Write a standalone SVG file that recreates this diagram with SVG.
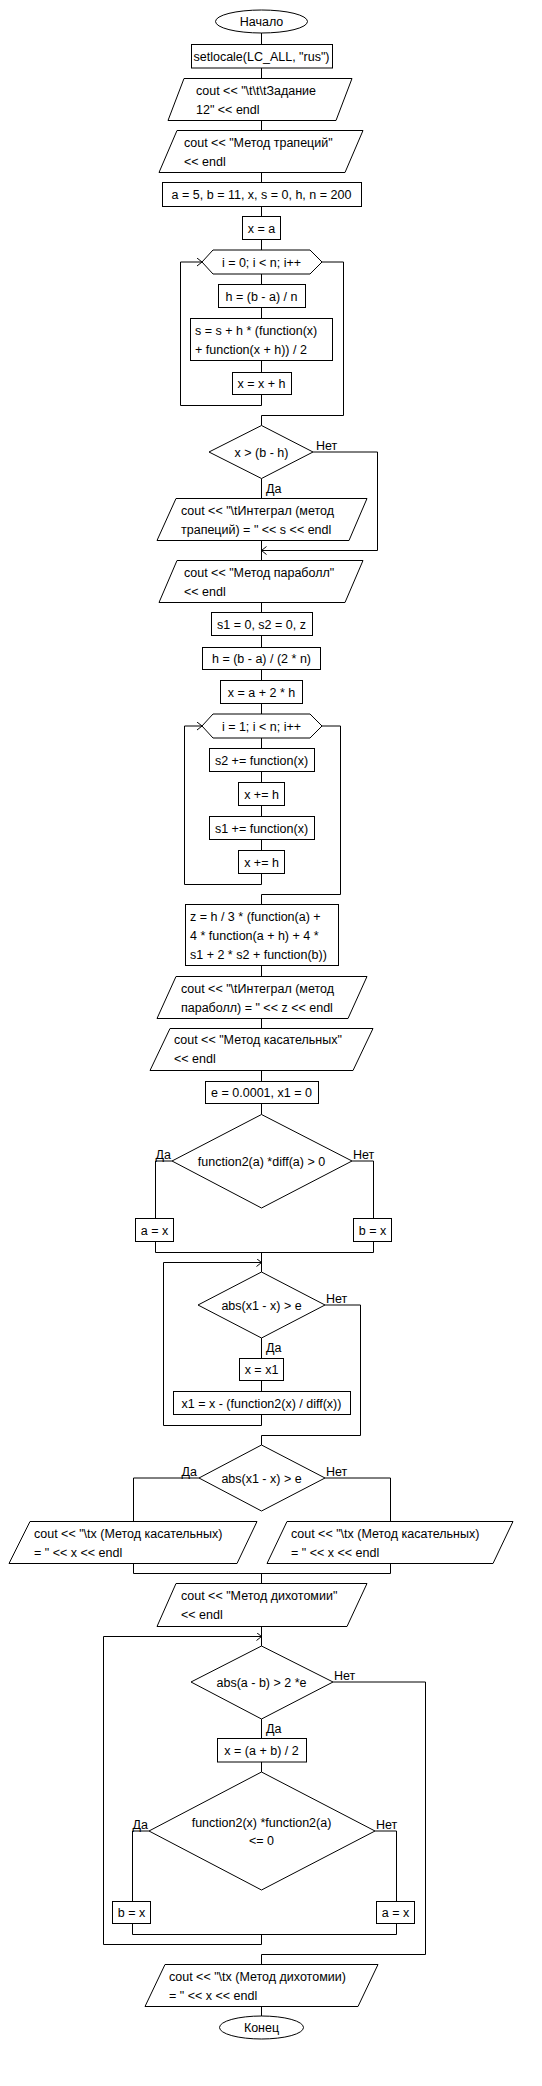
<svg xmlns="http://www.w3.org/2000/svg" width="542" height="2086" viewBox="0 0 542 2086">
<style>
.s{fill:#fff;stroke:#000;stroke-width:1}
.c{fill:none;stroke:#000;stroke-width:1}
text{font-family:"Liberation Sans",Arial,sans-serif;font-size:12.5px;fill:#000}
.m{text-anchor:middle}
.e{text-anchor:end}
</style>
<defs>
<marker id="ar" markerWidth="8" markerHeight="10" refX="6" refY="4" orient="auto" markerUnits="userSpaceOnUse">
<path d="M1,0 L6,4 L1,8" fill="none" stroke="#000" stroke-width="1"/>
</marker>
</defs>
<rect width="542" height="2086" fill="#fff"/>
<g id="connectors">
<path class="c" d="M261.5,33 V44.5 M261.5,68 V78.5 M261.5,120.5 V130.5 M261.5,172.5 V182.5 M261.5,206.5 V216.5 M261.5,239.5 V250 M261.5,274 V284.5 M261.5,307.5 V318.5 M261.5,360.5 V372.5"/>
<path class="c" d="M261.5,394.5 V405.5 H180.5 V262 H202" marker-end="url(#ar)"/>
<path class="c" d="M322,262 H343.5 V415.5 H261.5 V425.5"/>
<path class="c" d="M261.5,478.5 V498.5"/>
<path class="c" d="M313,452 H377.5 V550.5 H261.5" marker-end="url(#ar)"/>
<path class="c" d="M261.5,540.5 V560.5 M261.5,602.5 V612.5 M261.5,635.5 V647.5 M261.5,669.5 V680.5 M261.5,703.5 V714 M261.5,738 V748.5 M261.5,771.5 V782.5 M261.5,805.5 V816.5 M261.5,839.5 V850.5"/>
<path class="c" d="M261.5,873.5 V884.5 H184.5 V726 H202" marker-end="url(#ar)"/>
<path class="c" d="M322,726 H340.5 V894.5 H261.5 V904.5"/>
<path class="c" d="M261.5,965.5 V976.5 M261.5,1018.5 V1028.5 M261.5,1070.5 V1081.5 M261.5,1103.5 V1114.5"/>
<path class="c" d="M172,1161 H155.5 V1218.5 M352,1161 H373.5 V1218.5"/>
<path class="c" d="M155.5,1241.5 V1252.5 H373.5 V1241.5 M261.5,1252.5 V1272"/>
<path class="c" d="M261.5,1338 V1358.5 M261.5,1380.5 V1391.5"/>
<path class="c" d="M261.5,1414.5 V1425.5 H163.5 V1262.5 H261.5" marker-end="url(#ar)"/>
<path class="c" d="M325,1305 H360.5 V1435.5 H261.5 V1445"/>
<path class="c" d="M199,1478 H133.5 V1521.5 M325,1478 H390.5 V1521.5"/>
<path class="c" d="M133.5,1563.5 V1573.5 H390.5 V1563.5 M261.5,1573.5 V1583.5"/>
<path class="c" d="M261.5,1626.5 V1646 M261.5,1719 V1738.5 M261.5,1762 V1772"/>
<path class="c" d="M149,1831 H132.5 V1901.5 M375,1831 H396.5 V1901.5"/>
<path class="c" d="M132.5,1923.5 V1934.5 H396.5 V1923.5"/>
<path class="c" d="M261.5,1934.5 V1944.5 H103.5 V1636.5 H261.5" marker-end="url(#ar)"/>
<path class="c" d="M333,1682 H425.5 V1954.5 H261.5 V1964.5"/>
<path class="c" d="M261.5,2006.5 V2016"/>
</g>
<g id="labels">
<text x="316" y="449.5">Нет</text>
<text x="266" y="492.5">Да</text>
<text x="171" y="1158.5" class="e">Да</text>
<text x="353" y="1158.5">Нет</text>
<text x="326" y="1302.5">Нет</text>
<text x="266" y="1351.5">Да</text>
<text x="197" y="1475.5" class="e">Да</text>
<text x="326" y="1475.5">Нет</text>
<text x="334" y="1679.5">Нет</text>
<text x="266" y="1732.5">Да</text>
<text x="148" y="1828.5" class="e">Да</text>
<text x="376" y="1828.5">Нет</text>
</g>
<g id="n_start"><ellipse class="s" cx="261.5" cy="21.5" rx="46" ry="11.5"/><text x="261.5" y="26" class="m">Начало</text></g>
<g id="n_setlocale"><rect class="s" x="191.5" y="44.5" width="141" height="23.5"/><text x="261.5" y="60.5" class="m">setlocale(LC_ALL, "rus")</text></g>
<g id="n_out1"><polygon class="s" points="184,78.5 352,78.5 336,120.5 168,120.5"/><text x="196" y="94.5">cout &lt;&lt; "\t\t\tЗадание</text><text x="196" y="113.5">12" &lt;&lt; endl</text></g>
<g id="n_out2"><polygon class="s" points="177,130.5 363,130.5 345,172.5 159,172.5"/><text x="184" y="146.5">cout &lt;&lt; "Метод трапеций"</text><text x="184" y="165.5">&lt;&lt; endl</text></g>
<g id="n_init1"><rect class="s" x="162.5" y="182.5" width="199" height="24"/><text x="261.5" y="198.5" class="m">a = 5, b = 11, x, s = 0, h, n = 200</text></g>
<g id="n_xa"><rect class="s" x="242.5" y="216.5" width="38" height="23"/><text x="261.5" y="232.5" class="m">x = a</text></g>
<g id="n_loop1"><polygon class="s" points="202,262 213,250 310,250 322,262 310,274 213,274"/><text x="261.5" y="266.5" class="m">i = 0; i &lt; n; i++</text></g>
<g id="n_h1"><rect class="s" x="218.5" y="284.5" width="87" height="23"/><text x="261.5" y="300.5" class="m">h = (b - a) / n</text></g>
<g id="n_s"><rect class="s" x="190.5" y="318.5" width="142" height="42"/><text x="195" y="334.5">s = s + h * (function(x)</text><text x="195" y="353.5">+ function(x + h)) / 2</text></g>
<g id="n_xxh"><rect class="s" x="232.5" y="372.5" width="59" height="22"/><text x="261.5" y="387.5" class="m">x = x + h</text></g>
<g id="n_if1"><polygon class="s" points="261.5,425.5 313,452 261.5,478.5 209,452"/><text x="261.5" y="456.5" class="m">x &gt; (b - h)</text></g>
<g id="n_out3"><polygon class="s" points="176,498.5 367,498.5 349,540.5 157,540.5"/><text x="181" y="514.5">cout &lt;&lt; "\tИнтеграл (метод</text><text x="181" y="534">трапеций) = " &lt;&lt; s &lt;&lt; endl</text></g>
<g id="n_out4"><polygon class="s" points="177,560.5 363,560.5 345,602.5 159,602.5"/><text x="184" y="576.5">cout &lt;&lt; "Метод параболл"</text><text x="184" y="595.5">&lt;&lt; endl</text></g>
<g id="n_init2"><rect class="s" x="211.5" y="612.5" width="101" height="23"/><text x="261.5" y="628.5" class="m">s1 = 0, s2 = 0, z</text></g>
<g id="n_h2"><rect class="s" x="202.5" y="647.5" width="118" height="22"/><text x="261.5" y="663" class="m">h = (b - a) / (2 * n)</text></g>
<g id="n_xa2"><rect class="s" x="220.5" y="680.5" width="82" height="23"/><text x="261.5" y="696.5" class="m">x = a + 2 * h</text></g>
<g id="n_loop2"><polygon class="s" points="202,726 213,714 310,714 322,726 310,738 213,738"/><text x="261.5" y="730.5" class="m">i = 1; i &lt; n; i++</text></g>
<g id="n_s2"><rect class="s" x="209.5" y="748.5" width="105" height="23"/><text x="261.5" y="764.5" class="m">s2 += function(x)</text></g>
<g id="n_xh1"><rect class="s" x="238.5" y="782.5" width="46" height="23"/><text x="261.5" y="798.5" class="m">x += h</text></g>
<g id="n_s1"><rect class="s" x="209.5" y="816.5" width="105" height="23"/><text x="261.5" y="832.5" class="m">s1 += function(x)</text></g>
<g id="n_xh2"><rect class="s" x="238.5" y="850.5" width="46" height="23"/><text x="261.5" y="866.5" class="m">x += h</text></g>
<g id="n_z"><rect class="s" x="185.5" y="904.5" width="153" height="61"/><text x="190" y="920.5">z = h / 3 * (function(a) +</text><text x="190" y="939.5">4 * function(a + h) + 4 *</text><text x="190" y="958.5">s1 + 2 * s2 + function(b))</text></g>
<g id="n_out5"><polygon class="s" points="176,976.5 367,976.5 348,1018.5 157,1018.5"/><text x="181" y="992.5">cout &lt;&lt; "\tИнтеграл (метод</text><text x="181" y="1011.5">параболл) = " &lt;&lt; z &lt;&lt; endl</text></g>
<g id="n_out6"><polygon class="s" points="170,1028.5 373,1028.5 353,1070.5 150,1070.5"/><text x="174" y="1043.5">cout &lt;&lt; "Метод касательных"</text><text x="174" y="1062.5">&lt;&lt; endl</text></g>
<g id="n_init3"><rect class="s" x="205.5" y="1081.5" width="113" height="22"/><text x="261.5" y="1097" class="m">e = 0.0001, x1 = 0</text></g>
<g id="n_if2"><polygon class="s" points="261.5,1114.5 352,1161 261.5,1208 172,1161"/><text x="261.5" y="1165.5" class="m">function2(a) *diff(a) &gt; 0</text></g>
<g id="n_ax1"><rect class="s" x="135.5" y="1218.5" width="38" height="23"/><text x="154.5" y="1234.5" class="m">a = x</text></g>
<g id="n_bx1"><rect class="s" x="353.5" y="1218.5" width="38" height="23"/><text x="372.5" y="1234.5" class="m">b = x</text></g>
<g id="n_while1"><polygon class="s" points="261.5,1272 325,1305 261.5,1338 198,1305"/><text x="261.5" y="1309.5" class="m">abs(x1 - x) &gt; e</text></g>
<g id="n_xx1"><rect class="s" x="239.5" y="1358.5" width="44" height="22"/><text x="261.5" y="1374" class="m">x = x1</text></g>
<g id="n_x1"><rect class="s" x="173.5" y="1391.5" width="177" height="23"/><text x="261.5" y="1407.5" class="m">x1 = x - (function2(x) / diff(x))</text></g>
<g id="n_if3"><polygon class="s" points="261.5,1445 325,1478 261.5,1511 199,1478"/><text x="261.5" y="1482.5" class="m">abs(x1 - x) &gt; e</text></g>
<g id="n_outL"><polygon class="s" points="30,1521.5 257,1521.5 237,1563.5 9,1563.5"/><text x="34" y="1537.5">cout &lt;&lt; "\tx (Метод касательных)</text><text x="34" y="1556.5">= " &lt;&lt; x &lt;&lt; endl</text></g>
<g id="n_outR"><polygon class="s" points="287,1521.5 513,1521.5 493,1563.5 267,1563.5"/><text x="291" y="1537.5">cout &lt;&lt; "\tx (Метод касательных)</text><text x="291" y="1556.5">= " &lt;&lt; x &lt;&lt; endl</text></g>
<g id="n_out7"><polygon class="s" points="176,1583.5 367,1583.5 347,1626.5 157,1626.5"/><text x="181" y="1599.5">cout &lt;&lt; "Метод дихотомии"</text><text x="181" y="1618.5">&lt;&lt; endl</text></g>
<g id="n_while2"><polygon class="s" points="261.5,1646 333,1682 261.5,1719 191,1682"/><text x="261.5" y="1686.5" class="m">abs(a - b) &gt; 2 *e</text></g>
<g id="n_xab"><rect class="s" x="217.5" y="1738.5" width="89" height="23.5"/><text x="261.5" y="1754.5" class="m">x = (a + b) / 2</text></g>
<g id="n_if4"><polygon class="s" points="261.5,1772 375,1831 261.5,1890 149,1831"/><text x="261.5" y="1826.5" class="m">function2(x) *function2(a)</text><text x="261.5" y="1844.5" class="m">&lt;= 0</text></g>
<g id="n_bx2"><rect class="s" x="112.5" y="1901.5" width="38" height="22"/><text x="131.5" y="1917" class="m">b = x</text></g>
<g id="n_ax2"><rect class="s" x="376.5" y="1901.5" width="38" height="22"/><text x="395.5" y="1917" class="m">a = x</text></g>
<g id="n_out8"><polygon class="s" points="165,1964.5 378,1964.5 358,2006.5 145,2006.5"/><text x="169" y="1980.5">cout &lt;&lt; "\tx (Метод дихотомии)</text><text x="169" y="1999.5">= " &lt;&lt; x &lt;&lt; endl</text></g>
<g id="n_end"><ellipse class="s" cx="261.5" cy="2027.5" rx="42" ry="11.5"/><text x="261.5" y="2032" class="m">Конец</text></g>
</svg>
